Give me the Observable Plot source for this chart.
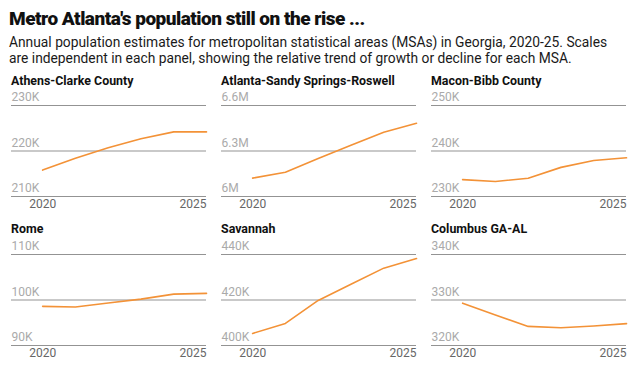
<!DOCTYPE html>
<html>
<head>
<meta charset="utf-8">
<script src="https://cdn.jsdelivr.net/npm/d3@7"></script>
<script src="https://cdn.jsdelivr.net/npm/@observablehq/plot@0.6"></script>
<style>
  html, body { margin:0; padding:0; background:#fff; width:640px; height:375px; overflow:hidden; }
  body { position:relative; font-family: Roboto, "Noto Sans", sans-serif; color:#111; }
  #title { position:absolute; left:9px; top:9px; font-size:19px; line-height:19px; font-weight:900; letter-spacing:-0.5px; white-space:nowrap; }
  #subtitle { position:absolute; left:9px; top:35px; font-size:13.8px; line-height:15.5px; color:#1a1a1a; white-space:nowrap; }
  .ptitle { position:absolute; font-size:12.4px; line-height:12px; font-weight:700; white-space:nowrap; color:#111; }
  .panel { position:absolute; }
</style>
</head>
<body>
<div id="title">Metro Atlanta's population still on the rise ...</div>
<div id="subtitle">Annual population estimates for metropolitan statistical areas (MSAs) in Georgia, 2020-25. Scales<br>are independent in each panel, showing the relative trend of growth or decline for each MSA.</div>
<script>
const years = [2020, 2021, 2022, 2023, 2024, 2025];
const xLabelsStart = [2020];
const xLabelsEnd = [2025];

const panelNames = ["Athens-Clarke County", "Atlanta-Sandy Springs-Roswell", "Macon-Bibb County", "Rome", "Savannah", "Columbus GA-AL"];

const athens   = [215800, 218400, 220700, 222700, 224200, 224200];
const atlanta  = [6121000, 6160000, 6250000, 6338000, 6424000, 6483000];
const macon    = [233700, 233300, 234000, 236400, 237900, 238500];
const rome     = [98600, 98450, 99350, 100200, 101300, 101450];
const savannah = [405300, 409700, 419800, 426900, 434000, 438200];
const columbus = [329300, 326700, 324200, 323900, 324300, 324800];

const athensTicks   = [210000, 220000, 230000];
const atlantaTicks  = [6000000, 6300000, 6600000];
const maconTicks    = [230000, 240000, 250000];
const romeTicks     = [90000, 100000, 110000];
const savannahTicks = [400000, 420000, 440000];
const columbusTicks = [320000, 330000, 340000];

const series = [athens, atlanta, macon, rome, savannah, columbus];
const tickSets = [athensTicks, atlantaTicks, maconTicks, romeTicks, savannahTicks, columbusTicks];

function fmt(v) {
  if (v >= 1e6) return d3.format("~")(+(v / 1e6).toFixed(1)) + "M";
  return Math.round(v / 1000) + "K";
}

const colX = [0, 210, 420];
const rowSvgTop = [91, 240];
const rowTitleTop = [75, 223];

series.forEach((vals, i) => {
  const col = i % 3, row = Math.floor(i / 3);
  const data = years.map((y, k) => ({year: y, value: vals[k]}));
  const ticks = tickSets[i];

  const t = document.createElement("div");
  t.className = "ptitle";
  t.textContent = panelNames[i];
  t.style.left = (colX[col] + 11) + "px";
  t.style.top = rowTitleTop[row] + "px";
  document.body.appendChild(t);

  const chart = Plot.plot({
    width: 210,
    height: 127,
    marginTop: 14,
    marginBottom: 22,
    marginLeft: 11,
    marginRight: 4,
    style: {fontFamily: "Roboto, sans-serif", background: "transparent", overflow: "visible"},
    x: {domain: [2019.05, 2025], axis: null},
    y: {domain: [ticks[0], ticks[2]], axis: null},
    marks: [
      Plot.ruleY(ticks, {stroke: "#939393", strokeWidth: 1.1}),
      Plot.text(ticks, {y: d => d, text: d => fmt(d), frameAnchor: "left", textAnchor: "start", dy: -8, fill: "#aaa", fontSize: 12}),
      Plot.text(xLabelsStart, {x: d => d, text: d => String(d), frameAnchor: "bottom", dy: 11, fill: "#666", fontSize: 12}),
      Plot.text(xLabelsEnd, {x: d => d, text: d => String(d), frameAnchor: "bottom", dy: 11, textAnchor: "end", fill: "#666", fontSize: 12}),
      Plot.line(data, {x: "year", y: "value", stroke: "#f39237", strokeWidth: 1.6})
    ]
  });
  const wrap = document.createElement("div");
  wrap.className = "panel";
  wrap.style.left = colX[col] + "px";
  wrap.style.top = rowSvgTop[row] + "px";
  wrap.appendChild(chart);
  document.body.appendChild(wrap);
});
</script>
</body>
</html>
